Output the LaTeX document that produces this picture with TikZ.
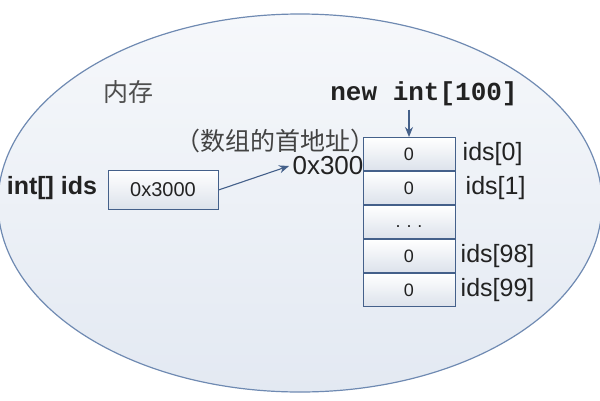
\documentclass[tikz,border=0pt]{standalone}
\usepackage{fontspec}
\setmainfont{Liberation Sans}
\setmonofont{Liberation Mono}
\newfontfamily\cjk{Noto Sans CJK SC}
\usepackage{tikz}
\usetikzlibrary{positioning,shapes.geometric,arrows.meta}

\definecolor{memline}{HTML}{6F8AB2}
\definecolor{memtop}{HTML}{F6F8FB}
\definecolor{membot}{HTML}{E3E9F2}
\definecolor{boxline}{HTML}{44608A}
\definecolor{boxbot}{HTML}{DCE2EB}
\definecolor{txt}{HTML}{222222}

\begin{document}
\begin{tikzpicture}[
  x=1pt, y=-1pt,
  memory/.style={ellipse, draw=memline, line width=1.2pt, top color=memtop, bottom color=membot,
    minimum width=604pt, minimum height=378pt, inner sep=0pt},
  cell/.style={draw=boxline, line width=1pt, top color=white, bottom color=boxbot,
    minimum width=92pt, minimum height=33pt, inner sep=0pt, font=\fontsize{18}{20}\selectfont, text=txt},
  ptrcell/.style={cell, minimum width=110pt, minimum height=39pt, font=\fontsize{20}{22}\selectfont},
  idx/.style={font=\fontsize{25}{28}\selectfont, text=txt, inner sep=0pt},
  arrow/.style={-{Stealth[length=10pt,width=8pt]}, draw=boxline, line width=1.1pt}
]
\useasboundingbox (0,0) rectangle (600,400);

% ======================================================
% =============== MEMORY ===============================
% ======================================================
\node (mem) [memory] at (300,203) {};
\node (memlabel) at (128,92) {\cjk\fontsize{25}{28}\selectfont\color{txt!80}内存};

% ======================================================
% =============== POINTER ==============================
% ======================================================
\node (ptrname) at (52,188) {\fontsize{25}{28}\selectfont\bfseries\color{txt}int[] ids};
\node (ptr) [ptrcell] at (163,190) {0x3000};

\node (addr) at (328,166) {\fontsize{26}{29}\selectfont\color{txt}0x300};
\node (note) at (275,141) {\cjk\fontsize{25}{28}\selectfont\color{txt!85}（数组的首地址）};

% ======================================================
% =============== ARRAY ================================
% ======================================================
\node (newlbl) at (424,94) {\ttfamily\bfseries\fontsize{26}{29}\selectfont\color{txt}new int[100]};

\node (cell0) [cell] at (409,154) {0};
\node (cell1) [cell, below=0pt of cell0] {0};
\node (celld) [cell, below=0pt of cell1] {\raisebox{-1.2ex}{.\,\,.\,\,.}};
\node (cell98) [cell, below=0pt of celld] {0};
\node (cell99) [cell, below=0pt of cell98] {0};

\node (ids0) [idx, right=7pt of cell0] {ids[0]};
\node (ids1) [idx, right=10pt of cell1] {ids[1]};
\node (ids98) [idx, right=5pt of cell98] {ids[98]};
\node (ids99) [idx, right=5pt of cell99] {ids[99]};

% arrows
\draw[arrow] (ptr.east) -- (addr.west);
\draw[arrow] (newlbl.south -| cell0.north) -- (cell0.north);

\end{tikzpicture}
\end{document}
